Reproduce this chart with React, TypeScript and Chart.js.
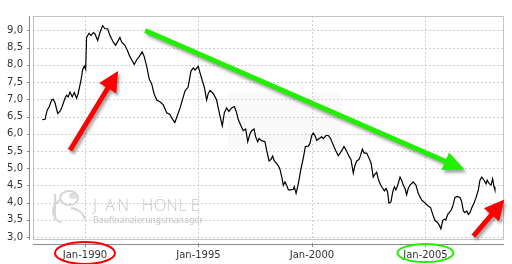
import { useEffect, useRef } from 'react';
import { Chart, registerables } from 'chart.js';

Chart.register(...registerables);

// Decimal-year dates of the readings
const DATES = [
  1988.12, 1988.24, 1988.34, 1988.41, 1988.53, 1988.60, 1988.68, 1988.80, 1988.90, 1988.97,
  1989.12, 1989.19, 1989.26, 1989.34, 1989.44, 1989.53, 1989.63, 1989.70, 1989.82, 1989.90,
  1989.97, 1990.03, 1990.07, 1990.18, 1990.26, 1990.37, 1990.44, 1990.56, 1990.66, 1990.78,
  1990.88, 1991.00, 1991.10, 1991.25, 1991.35, 1991.54, 1991.62, 1991.76, 1991.86, 1991.98,
  1992.10, 1992.17, 1992.28, 1992.39, 1992.52, 1992.61, 1992.72, 1992.83, 1992.94, 1993.04,
  1993.16, 1993.30, 1993.45, 1993.60, 1993.74, 1993.86, 1993.96, 1994.04, 1994.19, 1994.33,
  1994.41, 1994.54, 1994.67, 1994.77, 1994.85, 1994.99, 1995.07, 1995.17, 1995.26, 1995.36,
  1995.43, 1995.51, 1995.65, 1995.80, 1995.87, 1995.95, 1996.05, 1996.14, 1996.24, 1996.34,
  1996.46, 1996.58, 1996.68, 1996.75, 1996.87, 1996.97, 1997.08, 1997.17, 1997.27, 1997.34,
  1997.45, 1997.52, 1997.61, 1997.67, 1997.78, 1997.93, 1998.00, 1998.11, 1998.19, 1998.27,
  1998.34, 1998.41, 1998.52, 1998.59, 1998.67, 1998.74, 1998.81, 1998.89, 1998.96, 1999.06,
  1999.18, 1999.22, 1999.30, 1999.40, 1999.50, 1999.62, 1999.71, 1999.84, 1999.91, 1999.99,
  2000.06, 2000.13, 2000.21, 2000.32, 2000.43, 2000.50, 2000.62, 2000.72, 2000.82, 2000.94,
  2001.06, 2001.16, 2001.33, 2001.41, 2001.53, 2001.63, 2001.72, 2001.82, 2001.89, 2001.97,
  2002.07, 2002.13, 2002.22, 2002.30, 2002.41, 2002.51, 2002.60, 2002.70, 2002.78, 2002.85,
  2002.92, 2003.00, 2003.07, 2003.19, 2003.26, 2003.33, 2003.39, 2003.48, 2003.56, 2003.63,
  2003.70, 2003.78, 2003.88, 2003.95, 2004.02, 2004.10, 2004.17, 2004.24, 2004.32, 2004.46,
  2004.58, 2004.68, 2004.83, 2004.98, 2005.12, 2005.23, 2005.32, 2005.42, 2005.52, 2005.61,
  2005.68, 2005.76, 2005.83, 2005.90, 2005.98, 2006.05, 2006.15, 2006.22, 2006.30, 2006.40,
  2006.52, 2006.59, 2006.67, 2006.74, 2006.82, 2006.89, 2006.96, 2007.04, 2007.14, 2007.22,
  2007.33, 2007.40, 2007.48, 2007.58, 2007.67, 2007.72, 2007.81, 2007.89, 2007.96, 2008.02,
  2008.06,
];

// Interest rate values (%)
const RATES = [
  6.41, 6.42, 6.70, 6.76, 6.98, 7.00, 6.90, 6.59, 6.66, 6.75,
  7.03, 7.12, 7.07, 7.21, 7.07, 7.20, 7.03, 7.17, 7.54, 7.87,
  7.97, 7.87, 8.80, 8.92, 8.85, 8.94, 8.90, 8.71, 8.94, 9.14,
  9.05, 9.05, 8.85, 8.66, 8.57, 8.80, 8.66, 8.57, 8.43, 8.24,
  8.10, 8.01, 8.15, 8.24, 8.38, 8.24, 7.96, 7.59, 7.45, 7.17,
  6.98, 6.93, 6.84, 6.61, 6.56, 6.42, 6.33, 6.47, 6.75, 7.07,
  7.25, 7.35, 7.82, 7.91, 7.85, 7.96, 7.77, 7.54, 7.35, 6.98,
  7.17, 7.26, 7.17, 6.98, 6.75, 6.51, 6.23, 6.61, 6.75, 6.65,
  6.75, 6.79, 6.61, 6.42, 6.23, 6.09, 6.14, 5.77, 6.00, 6.09,
  6.14, 5.91, 5.77, 5.86, 5.80, 5.77, 5.53, 5.21, 5.25, 5.35,
  5.21, 5.16, 5.07, 4.97, 4.74, 4.50, 4.60, 4.50, 4.37, 4.37,
  4.39, 4.46, 4.27, 4.55, 4.93, 5.30, 5.63, 5.64, 5.72, 5.95,
  6.02, 5.95, 5.81, 5.86, 5.91, 5.86, 5.95, 5.95, 5.86, 5.67,
  5.49, 5.36, 5.53, 5.63, 5.49, 5.35, 5.25, 4.86, 5.07, 5.21,
  5.25, 5.35, 5.55, 5.44, 5.44, 5.30, 5.16, 4.74, 4.83, 4.88,
  4.69, 4.55, 4.46, 4.34, 4.41, 4.32, 3.99, 4.02, 4.32, 4.46,
  4.37, 4.51, 4.74, 4.65, 4.51, 4.41, 4.23, 4.41, 4.51, 4.60,
  4.51, 4.27, 4.08, 3.99, 3.90, 3.85, 3.66, 3.48, 3.43, 3.34,
  3.24, 3.48, 3.52, 3.50, 3.66, 3.71, 3.80, 3.94, 4.15, 4.18,
  4.15, 4.04, 3.76, 3.71, 3.76, 3.66, 3.71, 3.85, 3.99, 4.13,
  4.37, 4.65, 4.74, 4.65, 4.55, 4.65, 4.55, 4.51, 4.69, 4.46,
  4.37,
];

const Y_TICKS = [3.0, 3.5, 4.0, 4.5, 5.0, 5.5, 6.0, 6.5, 7.0, 7.5, 8.0, 8.5, 9.0];
const X_TICKS = [1990, 1995, 2000, 2005];
const X_TICK_LABELS = ['Jan-1990', 'Jan-1995', 'Jan-2000', 'Jan-2005'];
const X_MIN = 1987.71;
const X_MAX = 2008.46;
const Y_MIN = 2.944;
const Y_MAX = 9.42;

// Annotation arrows in data coordinates: [fromYear, fromValue, toYear, toValue]
const ARROW_RED_1 = [1989.34, 5.52, 1991.46, 7.82];
const ARROW_GREEN = [1992.65, 9.0, 2006.72, 4.96];
const ARROW_RED_2 = [2007.11, 3.03, 2008.48, 4.09];
// Circled tick labels
const CIRCLED_TICKS = [1990, 2005];
const CIRCLE_COLORS = ['#ff0000', '#22ee00'];

const WATERMARK_TITLE = 'JAN HÖNLE';
const WATERMARK_SUB = 'Baufinanzierungsmanager';

function drawArrow(ctx: CanvasRenderingContext2D, x1: number, y1: number, x2: number, y2: number, color: string, shaftW: number, headLen: number, headW: number) {
  const ang = Math.atan2(y2 - y1, x2 - x1);
  const c = Math.cos(ang), s = Math.sin(ang);
  const bx = x2 - c * headLen, by = y2 - s * headLen;
  const nx = -s, ny = c;
  ctx.save();
  ctx.shadowColor = 'rgba(0,0,0,0.35)';
  ctx.shadowBlur = 3;
  ctx.shadowOffsetX = 2;
  ctx.shadowOffsetY = 3;
  ctx.fillStyle = color;
  ctx.beginPath();
  ctx.moveTo(x1 + nx * shaftW / 2, y1 + ny * shaftW / 2);
  ctx.lineTo(bx + nx * shaftW / 2, by + ny * shaftW / 2);
  ctx.lineTo(bx + nx * headW / 2, by + ny * headW / 2);
  ctx.lineTo(x2, y2);
  ctx.lineTo(bx - nx * headW / 2, by - ny * headW / 2);
  ctx.lineTo(bx - nx * shaftW / 2, by - ny * shaftW / 2);
  ctx.lineTo(x1 - nx * shaftW / 2, y1 - ny * shaftW / 2);
  ctx.closePath();
  ctx.fill();
  ctx.restore();
}

const decoPlugin = {
  id: 'deco',
  beforeDatasetsDraw(chart: any) {
    const { ctx, chartArea: a, scales } = chart;
    const xs = scales.x, ys = scales.y;
    ctx.save();
    // faint shaded patch
    ctx.fillStyle = '#f9f9f9';
    const px1 = xs.getPixelForValue(1996.3), px2 = xs.getPixelForValue(2001.3);
    const py1 = ys.getPixelForValue(7.2), py2 = ys.getPixelForValue(5.55);
    ctx.fillRect(px1, py1, px2 - px1, py2 - py1);
    // dashed grid
    ctx.strokeStyle = '#cfcfcf';
    ctx.lineWidth = 1;
    ctx.setLineDash([2, 2]);
    for (const v of Y_TICKS) {
      const y = Math.round(ys.getPixelForValue(v)) + 0.5;
      ctx.beginPath(); ctx.moveTo(a.left, y); ctx.lineTo(a.right, y); ctx.stroke();
    }
    for (const v of X_TICKS) {
      const x = Math.round(xs.getPixelForValue(v)) + 0.5;
      ctx.beginPath(); ctx.moveTo(x, a.top); ctx.lineTo(x, a.bottom); ctx.stroke();
    }
    ctx.setLineDash([]);
    // plot outline
    ctx.strokeStyle = '#c4c4c4';
    ctx.strokeRect(a.left + 0.5, a.top + 0.5, a.right - a.left - 1, a.bottom - a.top);
    // axis lines
    ctx.strokeStyle = '#8a8a8a';
    ctx.beginPath(); ctx.moveTo(a.left - 3.5, a.top); ctx.lineTo(a.left - 3.5, a.bottom + 1); ctx.stroke();
    for (const v of Y_TICKS) {
      const y = Math.round(ys.getPixelForValue(v)) + 0.5;
      ctx.beginPath(); ctx.moveTo(a.left - 6, y); ctx.lineTo(a.left - 3, y); ctx.stroke();
    }
    ctx.beginPath(); ctx.moveTo(a.left, a.bottom + 5.5); ctx.lineTo(a.right, a.bottom + 5.5); ctx.stroke();
    for (const v of X_TICKS) {
      const x = Math.round(xs.getPixelForValue(v)) + 0.5;
      ctx.beginPath(); ctx.moveTo(x, a.bottom + 4); ctx.lineTo(x, a.bottom + 8); ctx.stroke();
    }
    // watermark logo
    const lx = xs.getPixelForValue(1989.3), ly = ys.getPixelForValue(3.9);
    ctx.strokeStyle = '#d6d6d6';
    ctx.fillStyle = '#dddddd';
    ctx.lineWidth = 2;
    ctx.beginPath(); ctx.ellipse(lx, ly - 8, 9, 7, 0, 0, Math.PI * 2); ctx.stroke();
    ctx.beginPath(); ctx.arc(lx - 4, ly + 5, 12, Math.PI * 0.6, Math.PI * 1.4); ctx.stroke();
    ctx.beginPath(); ctx.moveTo(lx - 14, ly - 12); ctx.lineTo(lx - 14, ly + 14); ctx.stroke();
    ctx.beginPath(); ctx.moveTo(lx + 2, ly + 2); ctx.quadraticCurveTo(lx + 14, ly + 4, lx + 16, ly + 14); ctx.stroke();
    ctx.beginPath(); ctx.ellipse(lx + 4, ly - 10, 4, 3, 0, 0, Math.PI * 2); ctx.fill();
    // watermark title
    const tx0 = xs.getPixelForValue(1990.35), tx1 = xs.getPixelForValue(1995.2);
    const ty = ys.getPixelForValue(3.76);
    ctx.fillStyle = '#c9c9c9';
    ctx.font = '300 16px "Open Sans"';
    ctx.textBaseline = 'alphabetic';
    ctx.textAlign = 'left';
    const chars = WATERMARK_TITLE.split('');
    const step = (tx1 - tx0) / chars.length;
    chars.forEach((ch, i) => ctx.fillText(ch, tx0 + i * step, ty));
    // watermark subtitle
    const sy = ys.getPixelForValue(3.42);
    ctx.font = '9px "DejaVu Sans"';
    const w = ctx.measureText(WATERMARK_SUB).width;
    ctx.save();
    ctx.translate(tx0, sy);
    ctx.scale((tx1 - tx0) / w, 1);
    ctx.fillStyle = '#c4c4c4';
    ctx.fillText(WATERMARK_SUB, 0, 0);
    ctx.restore();
    ctx.restore();
  },
  afterDraw(chart: any) {
    const { ctx, chartArea: a, scales } = chart;
    const xs = scales.x, ys = scales.y;
    const P = (arr: number[]) => [xs.getPixelForValue(arr[0]), ys.getPixelForValue(arr[1]), xs.getPixelForValue(arr[2]), ys.getPixelForValue(arr[3])];
    const r1 = P(ARROW_RED_1);
    drawArrow(ctx, r1[0], r1[1], r1[2], r1[3], '#ff0000', 5, 20, 20);
    const g = P(ARROW_GREEN);
    drawArrow(ctx, g[0], g[1], g[2], g[3], '#22ee00', 5, 21, 19);
    const r2 = P(ARROW_RED_2);
    drawArrow(ctx, r2[0], r2[1], r2[2], r2[3], '#ff0000', 5, 20, 20);
    // circles round tick labels
    CIRCLED_TICKS.forEach((v, i) => {
      const cx = xs.getPixelForValue(v);
      const cy = a.bottom + 14;
      ctx.save();
      ctx.strokeStyle = CIRCLE_COLORS[i];
      ctx.lineWidth = 2;
      ctx.beginPath();
      ctx.ellipse(cx, cy, i === 0 ? 30 : 28, i === 0 ? 11 : 9, 0, 0, Math.PI * 2);
      ctx.stroke();
      ctx.restore();
    });
  },
};

export default function App() {
  const ref = useRef<HTMLCanvasElement>(null);
  useEffect(() => {
    const chart = new Chart(ref.current as HTMLCanvasElement, {
      type: 'line',
      data: {
        datasets: [
          {
            data: DATES.map((d, i) => ({ x: d, y: RATES[i] })),
            borderColor: '#000000',
            borderWidth: 1.2,
            pointRadius: 0,
            tension: 0,
            fill: false,
          },
        ],
      },
      options: {
        animation: false,
        responsive: false,
        devicePixelRatio: 1,
        layout: { padding: { top: 8, right: 8, left: 0, bottom: 0 } },
        plugins: { legend: { display: false }, tooltip: { enabled: false } },
        scales: {
          x: {
            type: 'linear',
            min: X_MIN,
            max: X_MAX,
            afterBuildTicks: (s: any) => { s.ticks = X_TICKS.map((v) => ({ value: v })); },
            afterFit: (s: any) => { s.height = 25; },
            grid: { display: false, drawTicks: false },
            border: { display: false },
            ticks: {
              padding: 10,
              maxRotation: 0,
              autoSkip: false,
              color: '#333333',
              font: { family: 'DejaVu Sans', size: 10 },
              callback: (_v: any, i: number) => X_TICK_LABELS[i],
            },
          },
          y: {
            type: 'linear',
            min: Y_MIN,
            max: Y_MAX,
            afterBuildTicks: (s: any) => { s.ticks = Y_TICKS.map((v) => ({ value: v })); },
            afterFit: (s: any) => { s.width = 33; },
            grid: { display: false, drawTicks: false },
            border: { display: false },
            ticks: {
              padding: 10,
              autoSkip: false,
              color: '#333333',
              font: { family: 'DejaVu Sans', size: 10 },
              callback: (v: any) => Number(v).toFixed(1).replace('.', ','),
            },
          },
        },
      },
      plugins: [decoPlugin],
    });
    return () => chart.destroy();
  }, []);
  return (
    <div style={{ position: 'fixed', left: 0, top: 0, width: 512, height: 264, background: '#ffffff' }}>
      <canvas ref={ref} width={512} height={264} style={{ display: 'block', width: 512, height: 264 }} />
    </div>
  );
}
